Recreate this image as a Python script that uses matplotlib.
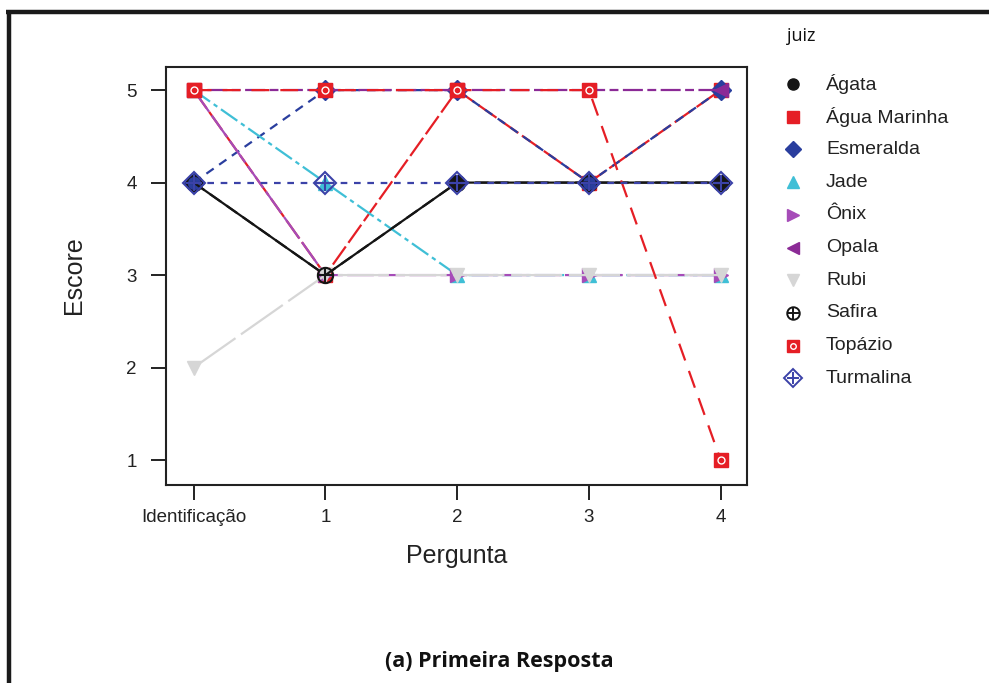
import matplotlib
matplotlib.use("Agg")
import matplotlib.pyplot as plt
from matplotlib.lines import Line2D

# respostas dos juizes por pergunta
perguntas = ["Identificação", "1", "2", "3", "4"]
juizes = ["Ágata", "Água Marinha", "Esmeralda", "Jade", "Ônix",
          "Opala", "Rubi", "Safira", "Topázio", "Turmalina"]

agata = [4, 3, 4, 4, 4]
agua_marinha = [5, 3, 5, 4, 5]
esmeralda = [4, 5, 5, 4, 5]
jade = [5, 4, 3, 3, 3]
onix = [5, 3, 3, 3, 3]
opala = [5, 5, 5, 5, 5]
rubi = [2, 3, 3, 3, 3]
safira = [4, 3, 4, 4, 4]
topazio = [5, 5, 5, 5, 1]
turmalina = [4, 4, 4, 4, 4]

escores = [agata, agua_marinha, esmeralda, jade, onix,
           opala, rubi, safira, topazio, turmalina]

# estilo de cada juiz: cor, marcador, traço, marcador sobreposto
estilos = [
    ("#151515", "o", "-", None),
    ("#E51E25", "s", (0, (10, 2)), None),
    ("#2A3E9E", "D", (0, (4, 3)), None),
    ("#3FBFD6", "^", (0, (9, 2, 2, 2)), None),
    ("#A64CB8", ">", (0, (12, 2)), None),
    ("#8B2A96", "<", (0, (4, 2, 9, 2)), None),
    ("#D6D6D6", "v", (0, (23, 3)), None),
    ("#151515", "o", (0, (6, 3)), "+"),
    ("#E51E25", "s", (0, (8, 5)), "o"),
    ("#3B42A8", "D", (0, (3, 3)), "+"),
]

plt.rcParams["font.family"] = ["Liberation Sans", "DejaVu Sans"]

fig = plt.figure(figsize=(9.89, 6.83), dpi=100)
ax = fig.add_axes([166 / 989, 1 - 485 / 683, 581 / 989, 418 / 683])

x = list(range(len(perguntas)))
for valores, (cor, marc, traco, extra) in zip(escores, estilos):
    if extra is None:
        ax.plot(x, valores, color=cor, linestyle=traco, linewidth=1.6,
                marker=marc, markersize=10, markeredgecolor=cor)
    elif extra == "+":
        ax.plot(x, valores, color=cor, linestyle=traco, linewidth=1.6,
                marker=marc, markersize=11, markerfacecolor="none",
                markeredgecolor=cor, markeredgewidth=1.5)
        ax.plot(x, valores, linestyle="none", marker="+", markersize=11,
                markeredgecolor=cor, markeredgewidth=1.5)
    else:
        ax.plot(x, valores, color=cor, linestyle=traco, linewidth=1.6,
                marker=marc, markersize=10.5, markeredgecolor=cor)
        ax.plot(x, valores, linestyle="none", marker="o", markersize=5,
                markerfacecolor="none", markeredgecolor="white",
                markeredgewidth=1.0)

ax.set_xlim(-0.21, 4.2)
ax.set_ylim(0.73, 5.25)
ax.set_xticks(x)
ax.set_xticklabels(perguntas)
ax.set_yticks([1, 2, 3, 4, 5])
ax.tick_params(axis="both", length=11, width=1.4, labelsize=13.5,
               colors="#222222")
ax.tick_params(axis="y", pad=10)
ax.tick_params(axis="x", pad=6)
for s in ax.spines.values():
    s.set_linewidth(1.5)
    s.set_color("#222222")

fig.text(457 / 989, 1 - 556 / 683, "Pergunta", fontsize=18,
         ha="center", va="center", color="#222222")
fig.text(74 / 989, 1 - 275 / 683, "Escore", fontsize=18, rotation=90,
         ha="center", va="center", color="#222222")

# legenda
fig.text(787 / 989, 1 - 36 / 683, "juiz", fontsize=13, family="Open Sans",
         ha="left", va="center", color="#111111")
for i, (nome, (cor, marc, traco, extra)) in enumerate(zip(juizes, estilos)):
    yl = 1 - (84 + i * 32.7) / 683
    xl = 793 / 989
    if extra == "+":
        fig.add_artist(Line2D([xl], [yl], marker=marc, markersize=9,
                              markerfacecolor="none", markeredgecolor=cor,
                              markeredgewidth=1.4, transform=fig.transFigure))
        fig.add_artist(Line2D([xl], [yl], marker="+", markersize=9,
                              markeredgecolor=cor, markeredgewidth=1.4,
                              transform=fig.transFigure))
    else:
        fig.add_artist(Line2D([xl], [yl], marker=marc, markersize=8,
                              color=cor, markeredgecolor=cor,
                              transform=fig.transFigure))
        if extra == "o":
            fig.add_artist(Line2D([xl], [yl], marker="o", markersize=4,
                                  markerfacecolor="none",
                                  markeredgecolor="white",
                                  markeredgewidth=1.0,
                                  transform=fig.transFigure))
    fig.text(826 / 989, yl, nome, fontsize=14, ha="left", va="center",
             color="#222222")

# moldura da figura
fig.add_artist(Line2D([6 / 989, 1], [1 - 12 / 683, 1 - 12 / 683],
                      color="#1a1a1a", linewidth=3.2,
                      solid_capstyle="butt", transform=fig.transFigure))
fig.add_artist(Line2D([8.5 / 989, 8.5 / 989], [0, 1 - 12 / 683],
                      color="#1a1a1a", linewidth=3.2,
                      solid_capstyle="butt", transform=fig.transFigure))

fig.text(499 / 989, 1 - 661 / 683, "(a) Primeira Resposta", fontsize=15.5,
         family="Open Sans", fontweight="bold", ha="center", va="center",
         color="#111111")

fig.savefig("out.png", dpi=100)
